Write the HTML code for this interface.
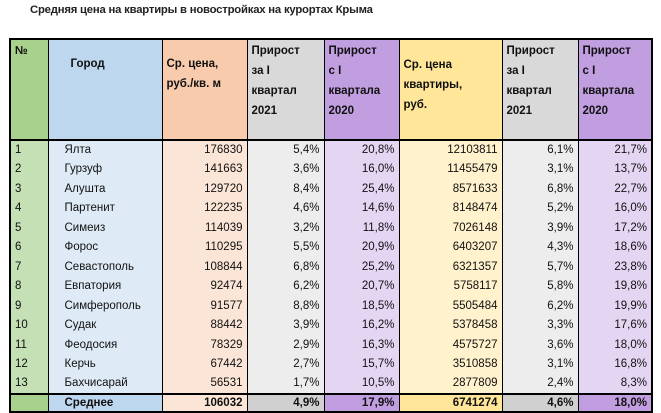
<!DOCTYPE html>
<html><head><meta charset="utf-8"><style>
body{margin:0;width:661px;height:406px;background:#fff;font-family:"Liberation Sans",sans-serif;overflow:hidden;position:relative}
#title{position:absolute;left:30px;top:4px;font-size:11.3px;font-weight:bold;color:#222;white-space:nowrap;letter-spacing:-0.2px}
table{position:absolute;left:9px;top:38px;border-collapse:collapse;border:2px solid #000;font-size:11.5px;color:#111}
td{padding:0 4px;border-left:1px solid #000;border-right:1px solid #000;height:19.5px;white-space:nowrap;line-height:12px;box-sizing:border-box}
thead td{height:88px;vertical-align:top;font-weight:bold;padding:0 4px;border-bottom:2px solid #000}
thead td div{height:84px;overflow:hidden;line-height:20px;padding-top:1px}
tfoot td{height:18px;border-top:2px solid #000;font-weight:bold}
.r{text-align:right}
.g{background:#c5e0b4}.b{background:#deebf7}.p{background:#fbe5d6}.s{background:#ededed}.v{background:#e4d5f3}.y{background:#fff2cc}
thead .g,tfoot .g{background:#a9d18e}thead .b,tfoot .b{background:#bdd7ee}thead .p{background:#f8cbad}thead .s{background:#d9d9d9}tfoot .s{background:#d0d0d0}thead .v,tfoot .v{background:#c09ee0}thead .y,tfoot .y{background:#ffe699}tfoot .p{background:#fbe5d6}
</style></head><body>
<div id="title">Средняя цена на квартиры в новостройках на курортах Крыма</div>
<table>
<colgroup><col style="width:38px"><col style="width:114px"><col style="width:85px"><col style="width:77px"><col style="width:75px"><col style="width:103px"><col style="width:76px"><col style="width:74px"></colgroup>
<thead><tr>
<td class="g"><div>№</div></td>
<td class="b" style="padding-left:22px"><div style="padding-top:14px">Город</div></td>
<td class="p"><div style="padding-top:14px">Ср. цена,<br>руб./кв. м</div></td>
<td class="s"><div>Прирост<br>за I<br>квартал<br>2021</div></td>
<td class="v"><div>Прирост<br>с I<br>квартала<br>2020</div></td>
<td class="y"><div style="padding-top:15px">Ср. цена<br>квартиры,<br>руб.</div></td>
<td class="s"><div>Прирост<br>за I<br>квартал<br>2021</div></td>
<td class="v"><div>Прирост<br>с I<br>квартала<br>2020</div></td>
</tr></thead>
<tbody id="tb"></tbody>
<tfoot><tr>
<td class="g"></td><td class="b" style="padding-left:16px">Среднее</td><td class="p r">106032</td><td class="s r">4,9%</td><td class="v r">17,9%</td><td class="y r">6741274</td><td class="s r">4,6%</td><td class="v r">18,0%</td>
</tr></tfoot>
</table>
<script>
const cities=["Ялта","Гурзуф","Алушта","Партенит","Симеиз","Форос","Севастополь","Евпатория","Симферополь","Судак","Феодосия","Керчь","Бахчисарай"];
const sqmPrice=[176830,141663,129720,122235,114039,110295,108844,92474,91577,88442,78329,67442,56531];
const sqmQ1=["5,4%","3,6%","8,4%","4,6%","3,2%","5,5%","6,8%","6,2%","8,8%","3,9%","2,9%","2,7%","1,7%"];
const sqmY=["20,8%","16,0%","25,4%","14,6%","11,8%","20,9%","25,2%","20,7%","18,5%","16,2%","16,3%","15,7%","10,5%"];
const aptPrice=[12103811,11455479,8571633,8148474,7026148,6403207,6321357,5758117,5505484,5378458,4575727,3510858,2877809];
const aptQ1=["6,1%","3,1%","6,8%","5,2%","3,9%","4,3%","5,7%","5,8%","6,2%","3,3%","3,6%","3,1%","2,4%"];
const aptY=["21,7%","13,7%","22,7%","16,0%","17,2%","18,6%","23,8%","19,8%","19,9%","17,6%","18,0%","16,8%","8,3%"];
const tb=document.getElementById('tb');
cities.forEach((c,i)=>{
  const tr=document.createElement('tr');
  
  
  const vals=[[i+1,'g'],[c,'b'],[sqmPrice[i],'p r'],[sqmQ1[i],'s r'],[sqmY[i],'v r'],[aptPrice[i],'y r'],[aptQ1[i],'s r'],[aptY[i],'v r']];
  vals.forEach(([v,cl],j)=>{
    const td=document.createElement('td');
    td.className=cl;
    if(j==1)td.style.paddingLeft='16px';
    td.textContent=v;
    
    
    tr.appendChild(td);
  });
  tb.appendChild(tr);
});
</script>
</body></html>
